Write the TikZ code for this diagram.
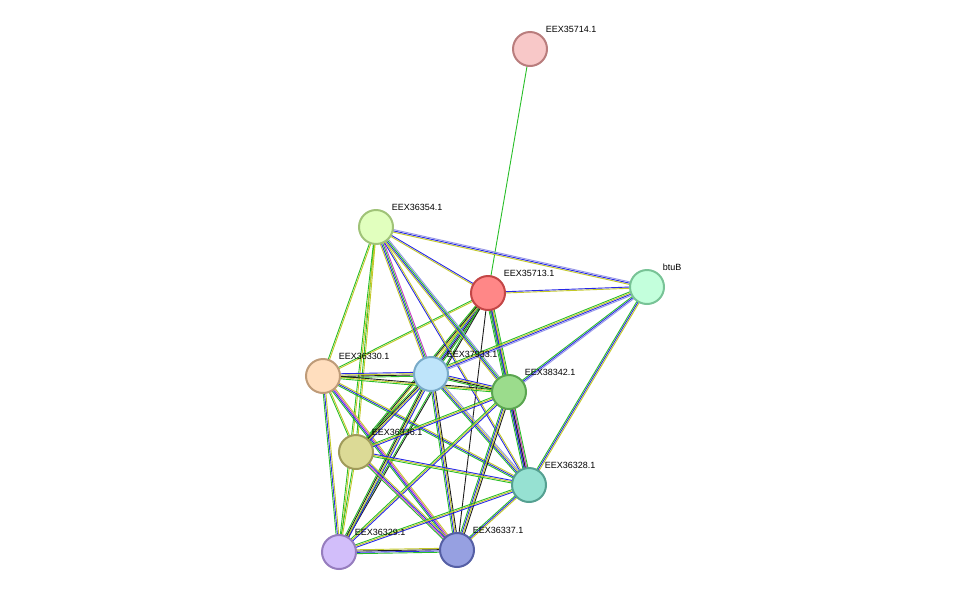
\documentclass[tikz,border=0pt]{standalone}
\usepackage{fontspec}
\setmainfont{Liberation Sans}
\usetikzlibrary{calc}
\definecolor{eg}{RGB}{40,190,40}
\definecolor{ey}{RGB}{195,200,40}
\definecolor{eb}{RGB}{40,40,230}
\definecolor{ek}{RGB}{30,30,30}
\definecolor{ep}{RGB}{200,60,200}
\definecolor{el}{RGB}{150,150,230}
\tikzset{
  prot/.style={circle,minimum size=34pt,inner sep=0pt,line width=2pt},
  lbl/.style={font=\fontsize{9}{10}\selectfont,anchor=south west,inner sep=1pt,xshift=2pt,yshift=2pt}
}
% link between two proteins: #3 = number of strands, #4 = their colours
\newcommand\lnk[4]{%
  \foreach \c [count=\i] in {#4} {
    \pgfmathsetmacro\off{(\i-(#3+1)/2)*1.3}
    \draw[\c,line width=0.9pt] ($(#1)!\off pt!90:(#2)$) -- ($(#2)!\off pt!-90:(#1)$);
  }}
\begin{document}
\begin{tikzpicture}[x=1pt,y=-1pt]
\useasboundingbox (0,0) rectangle (975,598);
% protein positions
\coordinate (p35714) at (530,49);
\coordinate (p36354) at (376,227);
\coordinate (p35713) at (488,293);
\coordinate (pbtuB) at (647,287);
\coordinate (p36330) at (323,376);
\coordinate (p37933) at (431,374);
\coordinate (p38342) at (509,392);
\coordinate (p36336) at (356,452);
\coordinate (p36328) at (529,485);
\coordinate (p36329) at (339,552);
\coordinate (p36337) at (457,550);
% links
\lnk{p35714}{p35713}{1}{eg}
\lnk{p35713}{pbtuB}{2}{ey,eb}
\lnk{p35713}{p37933}{5}{ey,eg,eb,ek,eg}
\lnk{p35713}{p38342}{5}{eg,eb,ek,ep,eg}
\lnk{p35713}{p36330}{2}{eg,ey}
\lnk{p35713}{p36336}{3}{eg,ek,ey}
\lnk{p35713}{p36329}{2}{eg,ek}
\lnk{p35713}{p36328}{3}{eg,eb,ey}
\lnk{p35713}{p36337}{1}{ek}
\lnk{p36354}{pbtuB}{3}{ey,eb,el}
\lnk{p36354}{p35713}{2}{ey,eb}
\lnk{p36354}{p36330}{2}{eg,ey}
\lnk{p36354}{p37933}{4}{ey,eb,eg,ep}
\lnk{p36354}{p38342}{4}{ey,eb,eg,el}
\lnk{p36354}{p36336}{2}{eg,ey}
\lnk{p36354}{p36329}{2}{eg,ey}
\lnk{p36354}{p36328}{2}{eb,ey}
\lnk{pbtuB}{p37933}{4}{eg,ey,eb,el}
\lnk{pbtuB}{p38342}{3}{eg,eb,el}
\lnk{pbtuB}{p36328}{3}{eg,eb,ey}
\lnk{p36330}{p37933}{4}{eg,ek,ey,eb}
\lnk{p36330}{p38342}{3}{eg,ey,ek}
\lnk{p36330}{p36336}{2}{eg,ey}
\lnk{p36330}{p36328}{3}{eg,eb,ey}
\lnk{p36330}{p36329}{3}{eg,eb,ey}
\lnk{p36330}{p36337}{4}{eg,eb,ep,ey}
\lnk{p37933}{p38342}{4}{eg,ek,ey,eb}
\lnk{p37933}{p36336}{4}{eg,ek,ey,eb}
\lnk{p37933}{p36328}{4}{eg,eb,ey,el}
\lnk{p37933}{p36329}{4}{eg,ek,ey,eb}
\lnk{p37933}{p36337}{4}{eg,eb,ey,ek}
\lnk{p38342}{p36336}{3}{eg,ey,eb}
\lnk{p38342}{p36328}{5}{eg,eb,ek,ep,eg}
\lnk{p38342}{p36329}{3}{eg,ey,eb}
\lnk{p38342}{p36337}{4}{eg,eb,ey,ek}
\lnk{p36336}{p36328}{3}{eg,ey,eb}
\lnk{p36336}{p36329}{2}{eg,ey}
\lnk{p36336}{p36337}{4}{eg,ep,eb,ey}
\lnk{p36328}{p36329}{3}{eg,ey,eb}
\lnk{p36328}{p36337}{3}{eg,eb,ey}
\lnk{p36329}{p36337}{4}{eg,eb,ek,ey}
% proteins
\node[prot,fill={rgb,255:red,248;green,200;blue,200},draw={rgb,255:red,185;green,125;blue,125},label={[lbl]45:EEX35714.1}] (n35714) at (p35714) {};
\node[prot,fill={rgb,255:red,225;green,255;blue,190},draw={rgb,255:red,160;green,195;blue,120},label={[lbl]45:EEX36354.1}] (n36354) at (p36354) {};
\node[prot,fill={rgb,255:red,255;green,135;blue,135},draw={rgb,255:red,195;green,70;blue,70},label={[lbl]45:EEX35713.1}] (n35713) at (p35713) {};
\node[prot,fill={rgb,255:red,195;green,255;blue,220},draw={rgb,255:red,120;green,195;blue,150},label={[lbl]45:btuB}] (nbtuB) at (pbtuB) {};
\node[prot,fill={rgb,255:red,255;green,222;blue,190},draw={rgb,255:red,190;green,155;blue,120},label={[lbl]45:EEX36330.1}] (n36330) at (p36330) {};
\node[prot,fill={rgb,255:red,190;green,228;blue,250},draw={rgb,255:red,120;green,170;blue,200},label={[lbl]45:EEX37933.1}] (n37933) at (p37933) {};
\node[prot,fill={rgb,255:red,155;green,220;blue,140},draw={rgb,255:red,90;green,165;blue,80},label={[lbl]45:EEX38342.1}] (n38342) at (p38342) {};
\node[prot,fill={rgb,255:red,220;green,218;blue,150},draw={rgb,255:red,160;green,155;blue,90},label={[lbl]45:EEX36336.1}] (n36336) at (p36336) {};
\node[prot,fill={rgb,255:red,150;green,225;blue,210},draw={rgb,255:red,85;green,160;blue,145},label={[lbl]45:EEX36328.1}] (n36328) at (p36328) {};
\node[prot,fill={rgb,255:red,210;green,190;blue,250},draw={rgb,255:red,150;green,125;blue,190},label={[lbl]45:EEX36329.1}] (n36329) at (p36329) {};
\node[prot,fill={rgb,255:red,150;green,160;blue,225},draw={rgb,255:red,85;green,95;blue,165},label={[lbl]45:EEX36337.1}] (n36337) at (p36337) {};
\end{tikzpicture}
\end{document}
